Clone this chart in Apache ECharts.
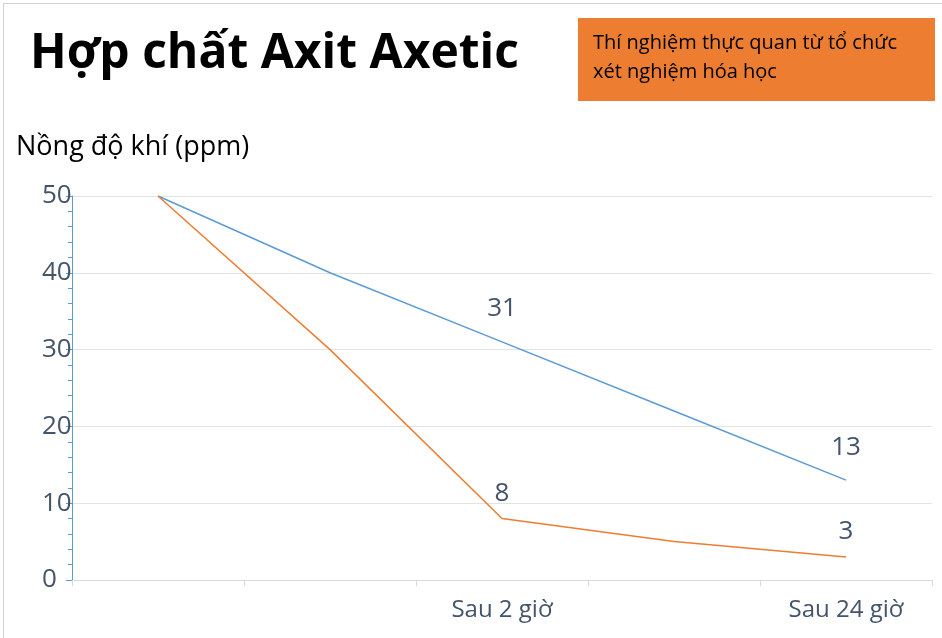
<!DOCTYPE html>
<html><head><meta charset="utf-8">
<script src="https://cdn.jsdelivr.net/npm/echarts@6/dist/echarts.min.js"></script>
<style>html,body{margin:0;padding:0;background:#fff}#main{width:942px;height:638px}</style>
</head><body><div id="main"></div>
<script>
var categories = ['', '', 'Sau 2 giờ', '', 'Sau 24 giờ'];
var blueValues = [50, 40, 31, 22, 13];
var orangeValues = [50, 30, 8, 5, 3];
var labelIndexes = [2, 4];

function withLabels(values, pos) {
    return values.map(function (v, i) {
        return labelIndexes.indexOf(i) >= 0 ? { value: v, label: { show: true, position: pos } } : v;
    });
}

var myChart = echarts.init(document.getElementById('main'));
var option = {
    animation: false,
    graphic: [
        { type: 'rect', left: 1, top: 1, shape: { width: 939, height: 635 }, style: { fill: 'none', stroke: '#d0d0d0' } },
        { type: 'text', left: 30, top: 30, style: { text: 'Hợp chất Axit Axetic', font: 'bold 48px "Open Sans", sans-serif', fill: '#000' } },
        { type: 'rect', left: 578, top: 18, shape: { width: 357, height: 83 }, style: { fill: '#ED7D31' } },
        { type: 'text', left: 593, top: 29, style: { text: 'Thí nghiệm thực quan từ tổ chức\nxét nghiệm hóa học', font: '20px "Open Sans", sans-serif', fill: '#000', lineHeight: 29 } },
        { type: 'text', left: 16, top: 134, style: { text: 'Nồng độ khí (ppm)', font: '27px "Open Sans", sans-serif', fill: '#000' } }
    ],
    grid: { left: 72, right: 10, top: 196, bottom: 58 },
    xAxis: {
        type: 'category', data: categories, boundaryGap: true,
        axisLine: { lineStyle: { color: '#d9d9d9' } },
        axisTick: { show: true, length: 6, lineStyle: { color: '#d9d9d9' } },
        axisLabel: { color: '#44546A', fontSize: 24, margin: 18, fontFamily: 'Open Sans' }
    },
    yAxis: {
        type: 'value', min: 0, max: 50, interval: 10,
        axisLine: { show: true, lineStyle: { color: '#5B9BD5' } },
        axisTick: { show: true, length: 6, inside: false, lineStyle: { color: '#5B9BD5' } },
        minorTick: { show: true, splitNumber: 5, length: 4, lineStyle: { color: '#5B9BD5' } },
        splitLine: { lineStyle: { color: '#e3e3e3' } },
        axisLabel: { color: '#44546A', fontSize: 26, margin: 30, align: 'left', fontFamily: 'Open Sans' }
    },
    series: [
        { type: 'line', data: withLabels(blueValues, 'top'), symbol: 'circle', symbolSize: 0.1, showSymbol: true,
          lineStyle: { color: '#5B9BD5', width: 1.5 }, itemStyle: { color: '#5B9BD5' },
          label: { color: '#44546A', fontSize: 26, distance: 20, fontFamily: 'Open Sans' } },
        { type: 'line', data: withLabels(orangeValues, 'top'), symbol: 'circle', symbolSize: 0.1, showSymbol: true,
          lineStyle: { color: '#ED7D31', width: 1.5 }, itemStyle: { color: '#ED7D31' },
          label: { color: '#44546A', fontSize: 26, distance: 12, fontFamily: 'Open Sans' } }
    ]
};
myChart.setOption(option);
</script></body></html>
